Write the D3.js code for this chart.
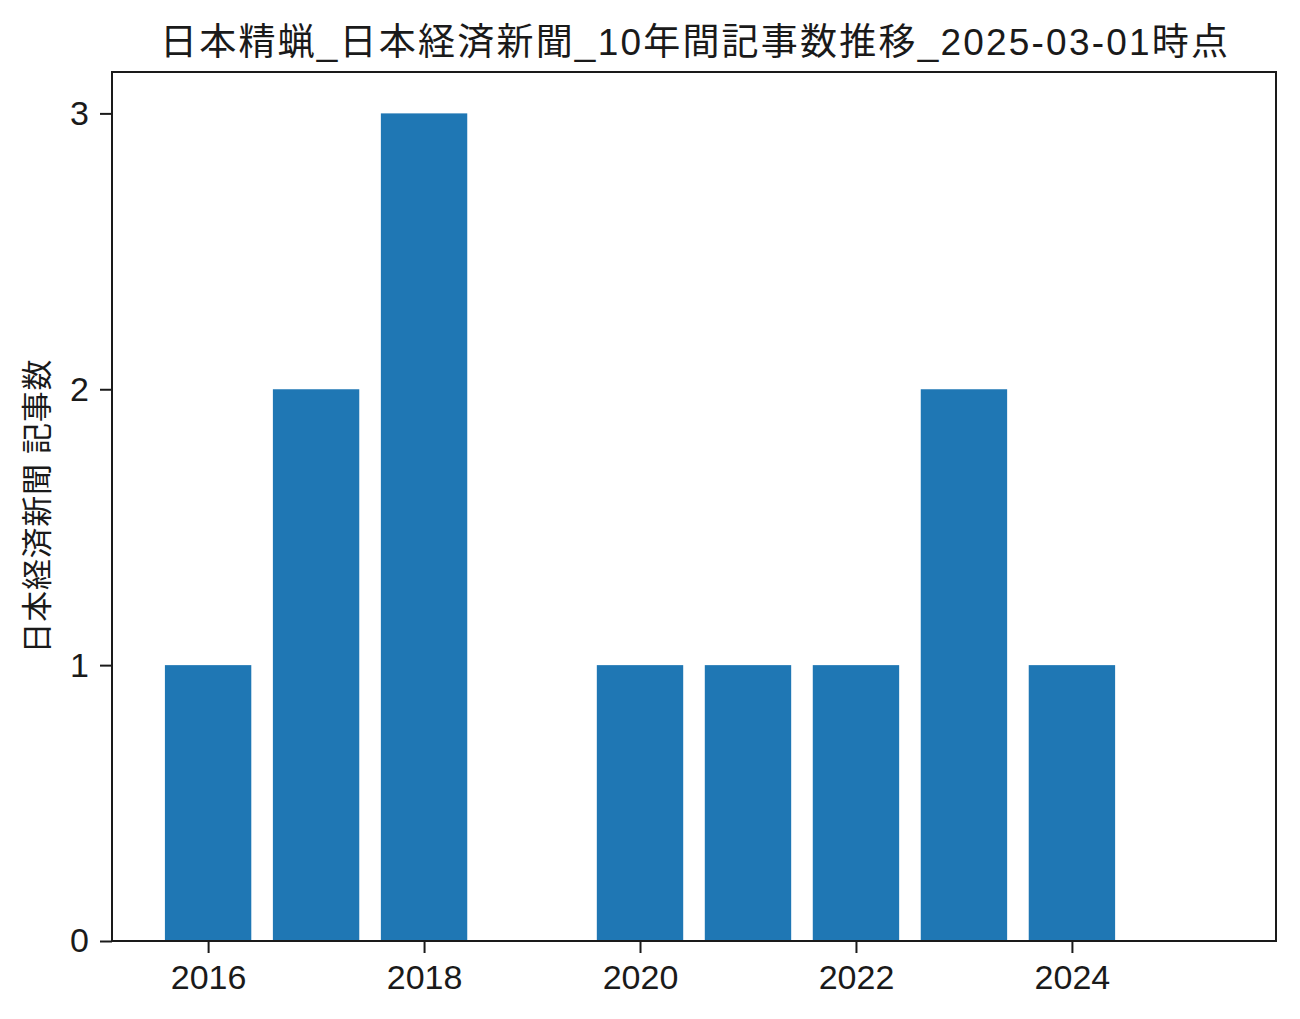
<!DOCTYPE html>
<html>
<head>
<meta charset="utf-8">
<script src="https://cdn.jsdelivr.net/npm/d3@7"></script>
<style>
  body { margin: 0; background: #fff; }
  text { font-family: "Liberation Sans", "Noto Sans CJK JP", sans-serif; fill: #1a1a1a; }
</style>
</head>
<body>
<svg id="chart" width="1300" height="1019"></svg>
<script>
// data
var years = [2016, 2017, 2018, 2019, 2020, 2021, 2022, 2023, 2024, 2025];
var counts = [1, 2, 3, 0, 1, 1, 1, 2, 1, 0];
var xTicks = [2016, 2018, 2020, 2022, 2024];
var yTicks = [0, 1, 2, 3];
var title = "日本精蝋_日本経済新聞_10年間記事数推移_2025-03-01時点";
var yLabel = "日本経済新聞 記事数";

// layout
var margin = { left: 112, right: 24, top: 72, bottom: 78 };
var width = 1300, height = 1019;
var barWidth = 0.8;

var svg = d3.select("#chart");

// matplotlib style 5% margins
var xMin = d3.min(years) - barWidth / 2, xMax = d3.max(years) + barWidth / 2;
var xPad = (xMax - xMin) * 0.05;
var x = d3.scaleLinear()
  .domain([xMin - xPad, xMax + xPad])
  .range([margin.left, width - margin.right]);

var yMax = d3.max(counts);
var y = d3.scaleLinear()
  .domain([0, yMax * 1.05])
  .range([height - margin.bottom, margin.top]);

// bars
svg.append("g").selectAll("rect")
  .data(years)
  .enter().append("rect")
  .attr("x", function(d){ return x(d - barWidth / 2); })
  .attr("width", function(d){ return x(d + barWidth / 2) - x(d - barWidth / 2); })
  .attr("y", function(d, i){ return y(counts[i]); })
  .attr("height", function(d, i){ return y(0) - y(counts[i]); })
  .attr("fill", "#1f77b4");

// axes
var xAxis = svg.append("g")
  .attr("transform", "translate(0," + (height - margin.bottom) + ")")
  .call(d3.axisBottom(x).tickValues(xTicks).tickFormat(d3.format("d")).tickSize(12).tickPadding(12));
var yAxis = svg.append("g")
  .attr("transform", "translate(" + margin.left + ",0)")
  .call(d3.axisLeft(y).tickValues(yTicks).tickFormat(d3.format("d")).tickSize(12).tickPadding(11));

[xAxis, yAxis].forEach(function(a){
  a.select(".domain").remove();
  a.selectAll(".tick line").attr("stroke", "#1a1a1a").attr("stroke-width", 2);
  a.selectAll(".tick text").style("font-size", "34px").style("font-family", null).attr("fill", "#1a1a1a");
});

// frame
svg.append("rect")
  .attr("x", margin.left)
  .attr("y", margin.top)
  .attr("width", width - margin.right - margin.left)
  .attr("height", height - margin.bottom - margin.top)
  .attr("fill", "none")
  .attr("stroke", "#1a1a1a")
  .attr("stroke-width", 2);

// title
svg.append("text")
  .attr("x", 160)
  .attr("y", 55)
  .attr("textLength", 1068)
  .attr("lengthAdjust", "spacing")
  .style("font-size", "37px")
  .text(title);

// y label
svg.append("text")
  .attr("transform", "translate(48," + ((margin.top + height - margin.bottom) / 2) + ") rotate(-90)")
  .attr("text-anchor", "middle")
  .attr("textLength", 294)
  .attr("lengthAdjust", "spacing")
  .style("font-size", "31px")
  .text(yLabel);
</script>
</body>
</html>
